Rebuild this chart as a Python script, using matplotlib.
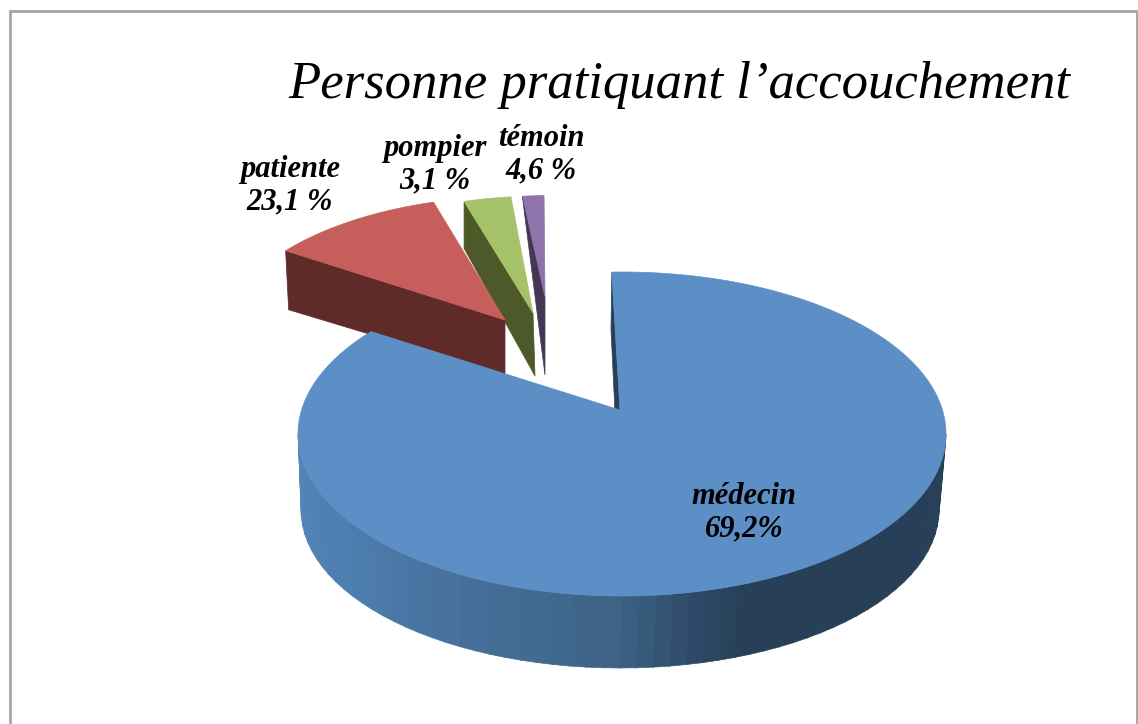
import numpy as np
import matplotlib
matplotlib.use("Agg")
import matplotlib.pyplot as plt
from matplotlib.colors import LinearSegmentedColormap
from matplotlib.patches import Polygon

title = "Personne pratiquant l’accouchement"
categories = ["médecin", "patiente", "pompier", "témoin"]
pct_labels = ["69,2%", "23,1 %", "3,1 %", "4,6 %"]
# the drawn slices are not in proportion with the printed labels, so these are read off the picture
drawn_shares = [86.4, 9.7, 2.7, 1.2]

top_colors = ["#5C8FC5", "#C65F5B", "#A6C269", "#8E74AB"]
dark_colors = ["#274058", "#5F2A27", "#4D5928", "#443654"]
wall_stops = [(0, "#5586B8"), (0.2, "#4D7DAE"), (0.35, "#476F9A"), (0.5, "#3D6486"),
              (0.58, "#2F4A68"), (0.63, "#274058"), (1, "#274058")]

# layout, all in pixels of the 1138x724 picture
start_angle = 358.2
centers = [(622, 434), (514, 344), (541, 337), (553, 338)]
apexes = [(620, 410), (505, 320), (533, 313), (545, 297)]
scales = [1.0, 0.91, 0.87, 0.88]
rx, ry = 324, 162
rim_depth = [0, 59, 47, 2]
apex_depth = [0, 55, 63, 78]
rim_shift = [0, 3, 0, 0]
apex_shift = [0, 0, 2, 0]
label_pos = [(744, 513), (290, 186), (435, 165), (541, 155)]


def rim(i, a, b):
    t = np.radians(np.linspace(a, b, int(abs(b - a)) + 2))
    x = centers[i][0] + scales[i] * rx * np.sin(t)
    y = centers[i][1] - scales[i] * ry * np.cos(t)
    return np.column_stack([x, y])


fig = plt.figure(figsize=(11.38, 7.24), dpi=100)
ax = fig.add_axes([0, 0, 1, 1])
ax.set_xlim(0, 1138)
ax.set_ylim(724, 0)
ax.axis("off")

# chart frame, open at the bottom of the crop
ax.plot([10, 10, 1137, 1137], [724, 11, 11, 724], color="#A6A6A6", lw=2, solid_joinstyle="miter")

# slice angles, clockwise from the top
angles = np.array(drawn_shares) * 3.6
starts = start_angle + np.concatenate([[0], np.cumsum(angles)[:-1]])
ends = starts + angles

# the small slices go first, from the back to the front
for i in [3, 2, 1]:
    pts = rim(i, starts[i], ends[i])
    apex = np.array(apexes[i], dtype=float)
    # cut face going from the first rim point to the apex
    wall = [pts[0], apex, apex + [apex_shift[i], apex_depth[i]], pts[0] + [rim_shift[i], rim_depth[i]]]
    ax.add_patch(Polygon(wall, closed=True, fc=dark_colors[i], ec=dark_colors[i], lw=0.5))
    ax.add_patch(Polygon(np.vstack([apex, pts]), closed=True, fc=top_colors[i], ec=top_colors[i], lw=0.5))

# big slice: outer wall in strips, then inner sliver, then the top face
cmap = LinearSegmentedColormap.from_list("wall", wall_stops)
wall_center = (620, 510)
wall_rx, wall_ry = 319, 158
for a in np.arange(90, 270, 3.0):
    t = np.radians([a, a + 3.2])
    up_x = centers[0][0] + rx * np.sin(t)
    up_y = centers[0][1] - ry * np.cos(t)
    lo_x = wall_center[0] + wall_rx * np.sin(t)
    lo_y = wall_center[1] - wall_ry * np.cos(t)
    col = cmap((270 - a) / 180)
    quad = [(up_x[0], up_y[0]), (up_x[1], up_y[1]), (lo_x[1], lo_y[1]), (lo_x[0], lo_y[0])]
    ax.add_patch(Polygon(quad, closed=True, fc=col, ec=col, lw=0.5))

pts = rim(0, starts[0], ends[0])
ax.add_patch(Polygon([pts[0], (620, 412), (615, 412), (611, 330)], closed=True,
                     fc=dark_colors[0], ec=dark_colors[0], lw=0.5))
ax.add_patch(Polygon(np.vstack([apexes[0], pts]), closed=True, fc=top_colors[0], ec=top_colors[0], lw=0.5))

for name, pct, pos in zip(categories, pct_labels, label_pos):
    ax.text(pos[0], pos[1], name + "\n" + pct, ha="center", va="center", fontsize=22, linespacing=1.15,
            family="Liberation Serif", style="italic", weight="bold", color="black")

ax.text(679, 98, title, ha="center", va="baseline", fontsize=38, family="Liberation Serif",
        style="italic", color="black")

fig.savefig("out.png", dpi=100)
